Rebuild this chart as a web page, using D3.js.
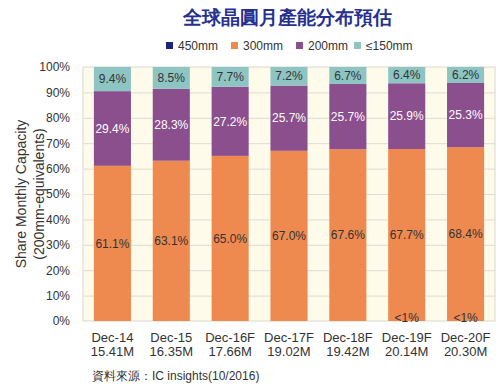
<!DOCTYPE html>
<html><head><meta charset="utf-8">
<script src="https://cdn.jsdelivr.net/npm/d3@7"></script>
<style>body{margin:0;background:#fff;}svg text{font-family:"Liberation Sans",Arial,sans-serif;}</style>
</head><body><svg id="c" width="500" height="390"></svg>
<script>
const categories = ["Dec-14","Dec-15","Dec-16F","Dec-17F","Dec-18F","Dec-19F","Dec-20F"];
const capacities = ["15.41M","16.35M","17.66M","19.02M","19.42M","20.14M","20.30M"];
const seriesNames = ["450mm","300mm","200mm","≤150mm"];
const s450 = [0,0,0,0,0,0,0];
const s300 = [61.1,63.1,65.0,67.0,67.6,67.7,68.4];
const s200 = [29.4,28.3,27.2,25.7,25.7,25.9,25.3];
const s150 = [9.4,8.5,7.7,7.2,6.7,6.4,6.2];
const label450 = ["","","","","","<1%","<1%"];
const yTicks = [0,10,20,30,40,50,60,70,80,90,100];
const colors = ["#1c237e","#ee8a50","#8b4f8e","#8ec5c3"];

const FONT = "Liberation Sans, Arial, sans-serif";
const svg = d3.select("#c");
const L=83,R=495,T=67,B=321;
const x = d3.scaleBand().domain(categories).range([L,R]).paddingInner(0.37).paddingOuter(0.185);
const y = d3.scaleLinear().domain([0,100]).range([B,T]);

svg.append("rect").attr("x",L).attr("y",T).attr("width",R-L).attr("height",B-T).attr("fill","#fffbea").attr("stroke","#d9d9d0").attr("stroke-width",1);
svg.append("g").selectAll("line").data(yTicks.slice(1,-1)).join("line")
  .attr("x1",L).attr("x2",R).attr("y1",d=>y(d)+0.5).attr("y2",d=>y(d)+0.5).attr("stroke","#dcdcd4");

const ax = svg.append("g").attr("transform",`translate(${L-10},0)`)
  .call(d3.axisLeft(y).tickValues(yTicks).tickFormat(d=>d+"%").tickSize(0));
ax.attr("font-family",FONT);
ax.select(".domain").remove();
ax.selectAll("text").attr("font-size",12).attr("fill","#333").attr("font-family",FONT);

const rows = categories.map((c,i)=>({cat:c,"450mm":s450[i],"300mm":s300[i],"200mm":s200[i],"≤150mm":s150[i]}));
const stack = d3.stack().keys(seriesNames)(rows);
stack[stack.length-1].forEach(seg=>{ seg[1]=100; });
const g = svg.append("g");
stack.forEach((layer,li)=>{
  g.append("g").selectAll("rect").data(layer.filter(d=>d[1]>d[0])).join("rect")
    .attr("x",d=>x(d.data.cat)).attr("width",x.bandwidth())
    .attr("y",d=>y(d[1])).attr("height",d=>y(d[0])-y(d[1]))
    .attr("fill",colors[li]);
});
const lab = [null,s300,s200,s150];
const labCol = [null,"#333","#fff","#333"];
stack.forEach((layer,li)=>{
  if(!lab[li]) return;
  g.append("g").selectAll("text").data(layer).join("text")
    .attr("x",d=>x(d.data.cat)+x.bandwidth()/2).attr("y",d=>y((d[0]+d[1])/2))
    .attr("dy","0.35em").attr("text-anchor","middle").attr("font-size",12).attr("font-family",FONT)
    .attr("fill",labCol[li]).text((d,i)=>lab[li][i].toFixed(1)+"%");
});
g.append("g").selectAll("text").data(categories).join("text")
  .attr("x",d=>x(d)+x.bandwidth()/2).attr("y",y(0)+1).attr("text-anchor","middle").attr("font-family",FONT)
  .attr("font-size",12).attr("fill","#333").text((d,i)=>label450[i]);

const xa = svg.append("g").selectAll("g").data(categories).join("g");
xa.append("text").attr("x",d=>x(d)+x.bandwidth()/2).attr("y",342).attr("text-anchor","middle").attr("font-family",FONT)
  .attr("font-size",13).attr("fill","#333").text(d=>d);
xa.append("text").attr("x",d=>x(d)+x.bandwidth()/2).attr("y",356).attr("text-anchor","middle").attr("font-family",FONT)
  .attr("font-size",13).attr("fill","#333").text((d,i)=>capacities[i]);

svg.append("text").attr("transform","translate(26,194) rotate(-90)").attr("text-anchor","middle").attr("font-family",FONT)
  .attr("font-size",14).attr("fill","#333").text("Share Monthly Capacity");
svg.append("text").attr("transform","translate(44,194) rotate(-90)").attr("text-anchor","middle").attr("font-family",FONT)
  .attr("font-size",14).attr("fill","#333").text("(200mm-equivalents)");

svg.append("text").attr("x",287).attr("y",24).attr("text-anchor","middle")
  .attr("font-family","Noto Sans CJK TC").attr("font-weight","900").attr("font-size",19)
  .attr("fill","#26318f").text("全球晶圓月產能分布預估");

const legX=[166,231,296,354];
const lg = svg.append("g").selectAll("g").data(seriesNames).join("g");
lg.append("rect").attr("x",(d,i)=>legX[i]).attr("y",42).attr("width",7).attr("height",7).attr("fill",(d,i)=>colors[i]);
lg.append("text").attr("x",(d,i)=>legX[i]+12).attr("y",46).attr("dy","0.35em").attr("font-size",12).attr("font-family",FONT).attr("fill","#333").text(d=>d);

svg.append("text").attr("x",92).attr("y",380).attr("font-size",12).attr("fill","#333")
  .attr("font-family","Liberation Sans, Noto Sans CJK TC").text("資料來源：IC insights(10/2016)");
</script></body></html>
